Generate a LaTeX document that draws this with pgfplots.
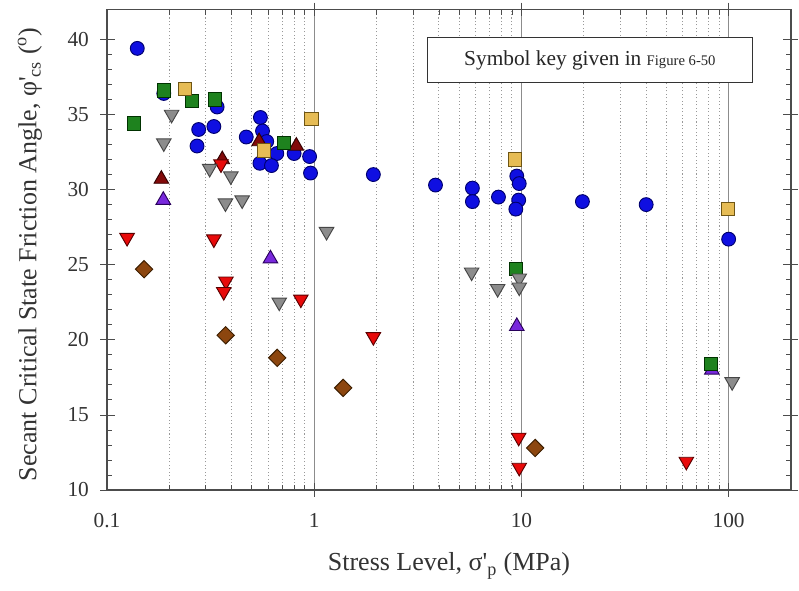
\documentclass[border=0pt]{standalone}
\usepackage{fontspec}
\setmainfont{Liberation Serif}
\usepackage{pgfplots}
\pgfplotsset{compat=1.18}
\definecolor{cblue}{RGB}{15,15,225}
\definecolor{cblueE}{RGB}{0,0,110}
\definecolor{cgreen}{RGB}{30,130,30}
\definecolor{cgreenE}{RGB}{0,50,0}
\definecolor{cyellow}{RGB}{230,188,85}
\definecolor{cyellowE}{RGB}{110,85,20}
\definecolor{cgray}{RGB}{140,140,140}
\definecolor{cgrayE}{RGB}{70,70,70}
\definecolor{cred}{RGB}{232,10,10}
\definecolor{credE}{RGB}{90,0,0}
\definecolor{cdkred}{RGB}{130,10,10}
\definecolor{cdkredE}{RGB}{50,0,0}
\definecolor{cpurple}{RGB}{120,40,220}
\definecolor{cpurpleE}{RGB}{40,0,90}
\definecolor{cbrown}{RGB}{140,70,15}
\definecolor{cbrownE}{RGB}{60,30,0}
\begin{document}
\begin{tikzpicture}
\path[use as bounding box] (-80.25pt,-75pt) rectangle (519pt,367.5pt);
\begin{axis}[
  at={(0,0)}, anchor=south west,
  scale only axis, width=513pt, height=360.5pt,
  xmode=log, log basis x=10,
  xmin=0.1, xmax=200, ymin=10, ymax=42,
  xtick={0.1,1,10,100}, xticklabels={0.1,1,10,100},
  minor xtick={0.2,0.3,0.4,0.5,0.6,0.7,0.8,0.9,2,3,4,5,6,7,8,9,20,30,40,50,60,70,80,90},
  ytick={10,15,...,40}, minor y tick num=4,
  tick align=inside,
  xmajorgrids, xminorgrids,
  major grid style={black!45, line width=0.8pt},
  minor grid style={black!40, dash pattern=on 0.8pt off 1.8pt, line width=0.7pt},
  axis line style={black!70, line width=0.9pt},
  every tick/.style={black!70, line width=0.6pt},
  major tick length=6pt, minor tick length=4pt,
  extra x ticks={1,10,100}, extra x tick labels={},
  extra y ticks={10,15,20,25,30,35,40}, extra y tick labels={},
  extra tick style={tick align=center, major tick length=10pt},
  /pgf/number format/assume math mode=true,
  ticklabel style={font=\fontsize{16}{19}\selectfont, text=black!80},
  xticklabel style={anchor=center, yshift=-23pt},
  yticklabel style={anchor=center, xshift=-21.6pt},
  xlabel={Stress Level, σ\textquotesingle\textsubscript{p} (MPa)},
  ylabel={Secant Critical State Friction Angle, φ\textquotesingle\textsubscript{cs} (\textsuperscript{o})},
  label style={font=\fontsize{19.5}{23}\selectfont, text=black!80},
  xlabel style={at={(axis description cs:0.5,-0.158)}, anchor=center},
  ylabel style={at={(axis description cs:-0.1126,0.49)}, anchor=center},
]
% blue circles
\addplot[only marks, mark=*, mark size=5.2pt, mark options={fill=cblue, draw=cblueE, line width=0.7pt}] coordinates {
(0.14,39.4) (0.188,36.4) (0.34,35.5) (0.328,34.2) (0.277,34.0) (0.272,32.9)
(0.55,34.8) (0.563,33.9) (0.47,33.5) (0.59,33.2) (0.66,32.4) (0.80,32.4)
(0.95,32.2) (0.547,31.75) (0.622,31.6) (0.96,31.1) (1.93,31.0) (3.85,30.3)
(5.8,30.1) (5.8,29.2) (7.75,29.5) (9.5,30.9) (9.76,30.4) (9.7,29.3) (9.4,28.7)
(19.7,29.2) (40,29.0) (100,26.7)};
% purple up triangles
\addplot[only marks, mark=triangle*, mark size=6.3pt, mark options={fill=cpurple, draw=cpurpleE, line width=0.7pt}] coordinates {
(0.187,29.3) (0.615,25.4) (9.5,20.9) (83,18.0)};
% dark red up triangles
\addplot[only marks, mark=triangle*, mark size=6.3pt, mark options={fill=cdkred, draw=cdkredE, line width=0.7pt}] coordinates {
(0.183,30.7) (0.36,32.0) (0.542,33.2) (0.82,32.9)};
% red down triangles
\addplot[only marks, mark=triangle*, mark size=6.3pt, mark options={rotate=180, fill=cred, draw=credE, line width=0.7pt}] coordinates {
(0.125,26.8) (0.328,26.7) (0.355,31.7) (0.375,23.9) (0.366,23.2) (0.862,22.7)
(1.93,20.2) (9.7,13.5) (9.76,11.5) (62.5,11.9)};
% brown diamonds
\addplot[only marks, mark=square*, mark size=4.6pt, mark options={rotate=45, fill=cbrown, draw=cbrownE, line width=0.7pt}] coordinates {
(0.151,24.7) (0.374,20.3) (0.663,18.8) (1.38,16.8) (11.65,12.8)};
% green squares
\addplot[only marks, mark=square*, mark size=5pt, mark options={fill=cgreen, draw=cgreenE, line width=0.7pt}] coordinates {
(0.135,34.4) (0.188,36.6) (0.257,35.9) (0.333,36.0) (0.714,33.1) (9.4,24.7) (82,18.4)};
% gray down triangles
\addplot[only marks, mark=triangle*, mark size=6.3pt, mark options={rotate=180, fill=cgray, draw=cgrayE, line width=0.7pt}] coordinates {
(0.205,35.0) (0.188,33.1) (0.313,31.4) (0.396,30.9) (0.373,29.1) (0.449,29.3)
(1.147,27.2) (0.678,22.5) (5.75,24.5) (9.76,24.1) (7.68,23.4) (9.76,23.5) (104,17.2)};
% yellow squares
\addplot[only marks, mark=square*, mark size=5pt, mark options={fill=cyellow, draw=cyellowE, line width=0.7pt}] coordinates {
(0.237,36.7) (0.97,34.7) (0.572,32.6) (9.33,32.0) (99,28.7)};
% text box
\draw[black!80, line width=0.9pt, fill=white] (rel axis cs:0.468,0.847) rectangle (rel axis cs:0.944,0.942);
\node[text=black!85] at (rel axis cs:0.706,0.8945) {\fontsize{16}{19}\selectfont Symbol key given in {\fontsize{11}{13}\selectfont Figure 6-50}};
\end{axis}
\end{tikzpicture}
\end{document}
